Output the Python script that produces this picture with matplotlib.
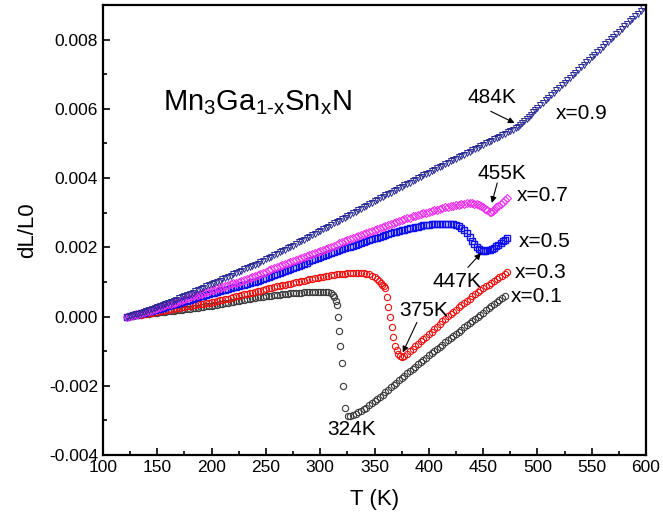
import matplotlib
matplotlib.use("Agg")
import matplotlib.pyplot as plt
import numpy as np
from matplotlib.ticker import MultipleLocator, FormatStrFormatter

plt.rcParams['font.family'] = ['Liberation Sans', 'DejaVu Sans']
plt.rcParams['mathtext.fontset'] = 'custom'
plt.rcParams['mathtext.rm'] = 'Liberation Sans'
plt.rcParams['mathtext.it'] = 'Liberation Sans'
plt.rcParams['axes.unicode_minus'] = False

# (T in K, dL/L0 in units of 1e-5)
s_01 = [(122.5, 0), (125, 1), (127.5, 2), (130, 3), (132.5, 4), (135, 5), (137.5, 6), (140, 7),
        (142.5, 8), (145, 9), (147.5, 10), (150, 11), (152.5, 12), (155, 13), (157.5, 14),
        (160, 15), (162.5, 16), (165, 17), (167.5, 18), (170, 19), (172.5, 20), (175, 21),
        (177.5, 22), (180, 23), (182.5, 24), (185, 25), (187.5, 26), (190, 27), (192.5, 28),
        (195, 29), (197.5, 30), (200, 31), (202.5, 33), (205, 34), (207.5, 36), (210, 37),
        (212.5, 39), (215, 40), (217.5, 42), (220, 43), (222.5, 45), (225, 46), (227.5, 48),
        (230, 49), (232.5, 50), (235, 52), (237.5, 53), (240, 54), (242.5, 55), (245, 56),
        (247.5, 57), (250, 58), (252.5, 59), (255, 60), (257.5, 61), (260, 62), (262.5, 63),
        (265, 64), (267.5, 65), (270, 66), (272.5, 67), (275, 67), (277.5, 68), (280, 69),
        (282.5, 69), (285, 70), (287.5, 70), (290, 70), (292.5, 71), (295, 71), (297.5, 71),
        (300, 71), (302.5, 71), (305, 71), (307.5, 70), (309.5, 67), (311.5, 62), (313, 55),
        (314.3, 46), (315.8, 32), (316.4, -2), (317.3, -43), (318.2, -86), (319.8, -134),
        (321.3, -200), (323.1, -265), (325.9, -287), (327.5, -287), (330, -284), (332.5, -281),
        (335, -277), (337.5, -273), (340, -268), (342.5, -263), (345, -257), (347.5, -251),
        (350, -245), (352.5, -239), (355, -232), (357.5, -226), (360, -219), (362.5, -212),
        (365, -205), (367.5, -198), (370, -191), (372.5, -184), (375, -177), (377.5, -171),
        (380, -164), (382.5, -158), (385, -151), (387.5, -145), (390, -138), (392.5, -132),
        (395, -125), (397.5, -119), (400, -112), (402.5, -106), (405, -100), (407.5, -93),
        (410, -87), (412.5, -81), (415, -75), (417.5, -68), (420, -62), (422.5, -56),
        (425, -50), (427.5, -44), (430, -38), (432.5, -31), (435, -25), (437.5, -19),
        (440, -13), (442.5, -7), (445, -1), (447.5, 5), (450, 11), (452.5, 18), (455, 24),
        (457.5, 30), (460, 36), (462.5, 42), (465, 48), (467.5, 54), (470, 60)]

s_03 = [(122.5, 0), (125, 1), (127.5, 2), (130, 3), (132.5, 4), (135, 5), (137.5, 6), (140, 8),
        (142.5, 9), (145, 11), (147.5, 12), (150, 14), (152.5, 15), (155, 17), (157.5, 18),
        (160, 20), (162.5, 21), (165, 23), (167.5, 24), (170, 26), (172.5, 27), (175, 28),
        (177.5, 30), (180, 31), (182.5, 32), (185, 33), (187.5, 35), (190, 36), (192.5, 37),
        (195, 39), (197.5, 40), (200, 42), (202.5, 43), (205, 45), (207.5, 47), (210, 49),
        (212.5, 50), (215, 52), (217.5, 54), (220, 56), (222.5, 58), (225, 60), (227.5, 62),
        (230, 64), (232.5, 65), (235, 67), (237.5, 69), (240, 71), (242.5, 73), (245, 75),
        (247.5, 77), (250, 79), (252.5, 81), (255, 83), (257.5, 85), (260, 87), (262.5, 88),
        (265, 90), (267.5, 92), (270, 94), (272.5, 95), (275, 97), (277.5, 99), (280, 101),
        (282.5, 102), (285, 104), (287.5, 106), (290, 108), (292.5, 109), (295, 111),
        (297.5, 112), (300, 114), (302.5, 115), (305, 117), (307.5, 118), (310, 120),
        (312.5, 121), (315, 122), (317.5, 123), (320, 124), (322.5, 124), (325, 125),
        (327.5, 125), (330, 126), (332.5, 126), (335, 127), (337.5, 127), (340, 126),
        (342.5, 124), (345, 122), (347.5, 118), (350, 114), (352, 109), (354, 104),
        (355.5, 98), (357, 92), (358.5, 87), (359.7, 81), (361.2, 56), (362.7, 27),
        (364.3, -2), (365.8, -31), (367.3, -60), (368.9, -84), (370.4, -98), (371.9, -108),
        (373.5, -115), (375, -118), (377.5, -115), (380, -108), (382.5, -101), (385, -93),
        (387.5, -86), (390, -79), (392.5, -72), (395, -65), (397.5, -58), (400, -51),
        (402.5, -44), (405, -36), (407.5, -29), (410, -21), (412.5, -14), (415, -6),
        (417.5, 1), (420, 7), (422.5, 14), (425, 20), (427.5, 27), (430, 33), (432.5, 40),
        (435, 46), (437.5, 52), (440, 58), (442.5, 64), (445, 70), (447.5, 76), (450, 81),
        (452.5, 87), (455, 92), (457.5, 98), (460, 103), (462.5, 108), (465, 113),
        (467.5, 118), (470, 123), (472, 128)]

s_05 = [(122.5, 0), (125, 2), (127.5, 3), (130, 5), (132.5, 7), (135, 9), (137.5, 11), (140, 13),
        (142.5, 15), (145, 17), (147.5, 19), (150, 21), (152.5, 23), (155, 26), (157.5, 28),
        (160, 30), (162.5, 32), (165, 35), (167.5, 37), (170, 39), (172.5, 41), (175, 44),
        (177.5, 46), (180, 49), (182.5, 51), (185, 54), (187.5, 56), (190, 58), (192.5, 60),
        (195, 63), (197.5, 65), (200, 67), (202.5, 69), (205, 71), (207.5, 73), (210, 76),
        (212.5, 78), (215, 80), (217.5, 82), (220, 84), (222.5, 86), (225, 88), (227.5, 90),
        (230, 92), (232.5, 94), (235, 97), (237.5, 99), (240, 101), (242.5, 103), (245, 105),
        (247.5, 108), (250, 111), (252.5, 114), (255, 117), (257.5, 120), (260, 123),
        (262.5, 126), (265, 129), (267.5, 132), (270, 135), (272.5, 138), (275, 141),
        (277.5, 144), (280, 147), (282.5, 150), (285, 153), (287.5, 156), (290, 159),
        (292.5, 162), (295, 165), (297.5, 168), (300, 171), (302.5, 174), (305, 177),
        (307.5, 180), (310, 183), (312.5, 186), (315, 189), (317.5, 191), (320, 194),
        (322.5, 197), (325, 200), (327.5, 202), (330, 205), (332.5, 207), (335, 210),
        (337.5, 213), (340, 216), (342.5, 218), (345, 221), (347.5, 223), (350, 226),
        (352.5, 228), (355, 231), (357.5, 233), (360, 236), (362.5, 238), (365, 240),
        (367.5, 243), (370, 245), (372.5, 247), (375, 249), (377.5, 251), (380, 253),
        (382.5, 255), (385, 257), (387.5, 258), (390, 260), (392.5, 261), (395, 263),
        (397.5, 264), (400, 265), (402.5, 266), (405, 267), (407.5, 267), (410, 268),
        (412.5, 268), (415, 268), (417.5, 268), (420, 267), (422.5, 266), (425, 264),
        (427.5, 261), (430, 256), (432.5, 249), (435, 240), (437.5, 229), (440, 218),
        (442, 210), (444, 202), (446, 196), (448, 192), (450, 190), (452, 190), (454, 191),
        (456, 192), (458, 195), (460, 199), (462, 203), (464, 208), (466, 212), (468, 217),
        (470, 221), (472, 226)]

s_07 = [(122.5, 0), (125, 2), (127.5, 4), (130, 6), (132.5, 8), (135, 10), (137.5, 13), (140, 15),
        (142.5, 17), (145, 20), (147.5, 22), (150, 25), (152.5, 27), (155, 30), (157.5, 32),
        (160, 35), (162.5, 37), (165, 40), (167.5, 43), (170, 46), (172.5, 48), (175, 51),
        (177.5, 53), (180, 56), (182.5, 58), (185, 61), (187.5, 63), (190, 66), (192.5, 68),
        (195, 71), (197.5, 73), (200, 76), (202.5, 78), (205, 81), (207.5, 83), (210, 86),
        (212.5, 88), (215, 91), (217.5, 93), (220, 96), (222.5, 98), (225, 101), (227.5, 103),
        (230, 106), (232.5, 109), (235, 112), (237.5, 115), (240, 118), (242.5, 121),
        (245, 124), (247.5, 127), (250, 130), (252.5, 133), (255, 136), (257.5, 139),
        (260, 142), (262.5, 145), (265, 148), (267.5, 151), (270, 154), (272.5, 157),
        (275, 160), (277.5, 163), (280, 166), (282.5, 169), (285, 172), (287.5, 175),
        (290, 178), (292.5, 181), (295, 184), (297.5, 187), (300, 190), (302.5, 193),
        (305, 196), (307.5, 199), (310, 202), (312.5, 205), (315, 208), (317.5, 211),
        (320, 214), (322.5, 217), (325, 220), (327.5, 223), (330, 226), (332.5, 229),
        (335, 232), (337.5, 235), (340, 238), (342.5, 241), (345, 244), (347.5, 247),
        (350, 250), (352.5, 253), (355, 256), (357.5, 259), (360, 262), (362.5, 265),
        (365, 268), (367.5, 271), (370, 274), (372.5, 276), (375, 279), (377.5, 281),
        (380, 284), (382.5, 286), (385, 289), (387.5, 291), (390, 294), (392.5, 296),
        (395, 298), (397.5, 300), (400, 303), (402.5, 305), (405, 307), (407.5, 309),
        (410, 311), (412.5, 313), (415, 315), (417.5, 317), (420, 319), (422.5, 320),
        (425, 322), (427.5, 323), (430, 325), (432.5, 326), (435, 327), (437.5, 327),
        (440, 327), (442, 326), (444, 325), (446, 323), (448, 320), (450, 316), (452, 311),
        (454, 307), (456, 303), (457.5, 303), (459, 306), (460.5, 310), (462, 315),
        (464, 320), (466, 326), (468, 331), (470, 336), (472, 341)]

s_09 = [(122.5, 0), (125, 2), (127.5, 4), (130, 6), (132.5, 8), (135, 11), (137.5, 13), (140, 16),
        (142.5, 19), (145, 22), (147.5, 25), (150, 28), (152.5, 31), (155, 34), (157.5, 37),
        (160, 40), (162.5, 43), (165, 46), (167.5, 49), (170, 53), (172.5, 56), (175, 59),
        (177.5, 62), (180, 66), (182.5, 69), (185, 73), (187.5, 76), (190, 80), (192.5, 83),
        (195, 87), (197.5, 90), (200, 94), (202.5, 97), (205, 101), (207.5, 104), (210, 108),
        (212.5, 111), (215, 115), (217.5, 118), (220, 122), (222.5, 125), (225, 129),
        (227.5, 132), (230, 136), (232.5, 139), (235, 143), (237.5, 146), (240, 150),
        (242.5, 153), (245, 157), (247.5, 161), (250, 165), (252.5, 169), (255, 173),
        (257.5, 177), (260, 181), (262.5, 185), (265, 189), (267.5, 193), (270, 197),
        (272.5, 201), (275, 205), (277.5, 209), (280, 214), (282.5, 218), (285, 222),
        (287.5, 226), (290, 231), (292.5, 235), (295, 239), (297.5, 243), (300, 248),
        (302.5, 252), (305, 256), (307.5, 260), (310, 265), (312.5, 269), (315, 273),
        (317.5, 277), (320, 282), (322.5, 286), (325, 290), (327.5, 294), (330, 299),
        (332.5, 303), (335, 307), (337.5, 311), (340, 316), (342.5, 320), (345, 324),
        (347.5, 328), (350, 333), (352.5, 337), (355, 341), (357.5, 345), (360, 350),
        (362.5, 354), (365, 358), (367.5, 362), (370, 366), (372.5, 370), (375, 375),
        (377.5, 379), (380, 383), (382.5, 387), (385, 391), (387.5, 395), (390, 399),
        (392.5, 403), (395, 408), (397.5, 412), (400, 416), (402.5, 420), (405, 424),
        (407.5, 428), (410, 432), (412.5, 436), (415, 440), (417.5, 444), (420, 448),
        (422.5, 452), (425, 456), (427.5, 460), (430, 464), (432.5, 468), (435, 472),
        (437.5, 476), (440, 480), (442.5, 484), (445, 488), (447.5, 492), (450, 496),
        (452.5, 500), (455, 504), (457.5, 508), (460, 512), (462.5, 516), (465, 520),
        (467.5, 524), (470, 528), (472.5, 532), (475, 536), (477.5, 540), (480, 545),
        (482, 549), (484, 554), (486, 559), (488, 565), (490, 571), (492, 577), (494, 583),
        (496, 590), (498, 596), (500, 602), (502.5, 610), (505, 617), (507.5, 625),
        (510, 632), (512.5, 639), (515, 646), (517.5, 654), (520, 661), (522.5, 668),
        (525, 676), (527.5, 683), (530, 690), (532.5, 698), (535, 705), (537.5, 712),
        (540, 720), (542.5, 727), (545, 735), (547.5, 742), (550, 749), (552.5, 757),
        (555, 764), (557.5, 771), (560, 779), (562.5, 786), (565, 794), (567.5, 801),
        (570, 808), (572.5, 816), (575, 823), (577.5, 830), (580, 838), (582.5, 845),
        (585, 853), (587.5, 860), (590, 868), (592.5, 875), (595, 882), (597.5, 890)]


def split(s):
    t, d = zip(*s)
    return np.array(t), np.array(d) * 1e-5


fig = plt.figure(figsize=(6.63, 5.22), dpi=100)
ax = fig.add_axes([0.1554, 0.1284, 0.819, 0.862])

# series drawn in the order of the original
t, d = split(s_01)
ax.plot(t, d, 'o', ms=4.5, mfc='none', mec='#3a3a3a', mew=0.8)
t, d = split(s_03)
ax.plot(t, d, 'o', ms=4.5, mfc='none', mec='#ee1111', mew=0.8)
t, d = split(s_05)
ax.plot(t, d, 's', ms=4.3, mfc='none', mec='#1010ee', mew=1.0)
t, d = split(s_07)
ax.plot(t, d, 'D', ms=4.0, mfc='none', mec='#ee33ee', mew=0.8)
t, d = split(s_09)
ax.plot(t, d, 'v', ms=4.3, mfc='none', mec='#2a2a95', mew=0.7)

ax.set_xlim(100, 600)
ax.set_ylim(-0.004, 0.009)
ax.xaxis.set_major_locator(MultipleLocator(50))
ax.xaxis.set_minor_locator(MultipleLocator(25))
ax.yaxis.set_major_locator(MultipleLocator(0.002))
ax.yaxis.set_minor_locator(MultipleLocator(0.001))
ax.yaxis.set_major_formatter(FormatStrFormatter('%.3f'))
ax.tick_params(which='both', direction='in', width=1.2, labelsize=12.5)
ax.tick_params(which='major', length=5)
ax.tick_params(which='minor', length=3)
for s in ax.spines.values():
    s.set_linewidth(1.6)

ax.set_xlabel('T (K)', fontsize=16, labelpad=10)
ax.set_ylabel('dL/L0', fontsize=16, labelpad=8)

ax.text(155, 0.00597, r'$\mathregular{Mn_3Ga_{1\text{-}x}Sn_xN}$', fontsize=21,
        ha='left', va='baseline')

lab = dict(fontsize=15, ha='center', va='center')
ax.text(541, 0.00588, 'x=0.9', **lab)
ax.text(505, 0.00351, 'x=0.7', **lab)
ax.text(507, 0.00217, 'x=0.5', **lab)
ax.text(503, 0.00128, 'x=0.3', **lab)
ax.text(499, 0.00058, 'x=0.1', **lab)

ax.text(458, 0.00632, '484K', **lab)
ax.text(467, 0.00412, '455K', **lab)
ax.text(426, 0.00101, '447K', **lab)
ax.text(395, 0.00017, '375K', **lab)
ax.text(329, -0.00325, '324K', **lab)

arr = dict(arrowstyle='-|>', color='black', lw=0.8, mutation_scale=9,
           shrinkA=0, shrinkB=0)
ax.annotate('', xy=(479, 0.00559), xytext=(457, 0.00593), arrowprops=arr)
ax.annotate('', xy=(458, 0.00328), xytext=(463, 0.00386), arrowprops=arr)
ax.annotate('', xy=(448, 0.00183), xytext=(436, 0.00142), arrowprops=arr)
ax.annotate('', xy=(376, -0.00104), xytext=(389, -0.00017), arrowprops=arr)

fig.savefig('out.png', dpi=100)
